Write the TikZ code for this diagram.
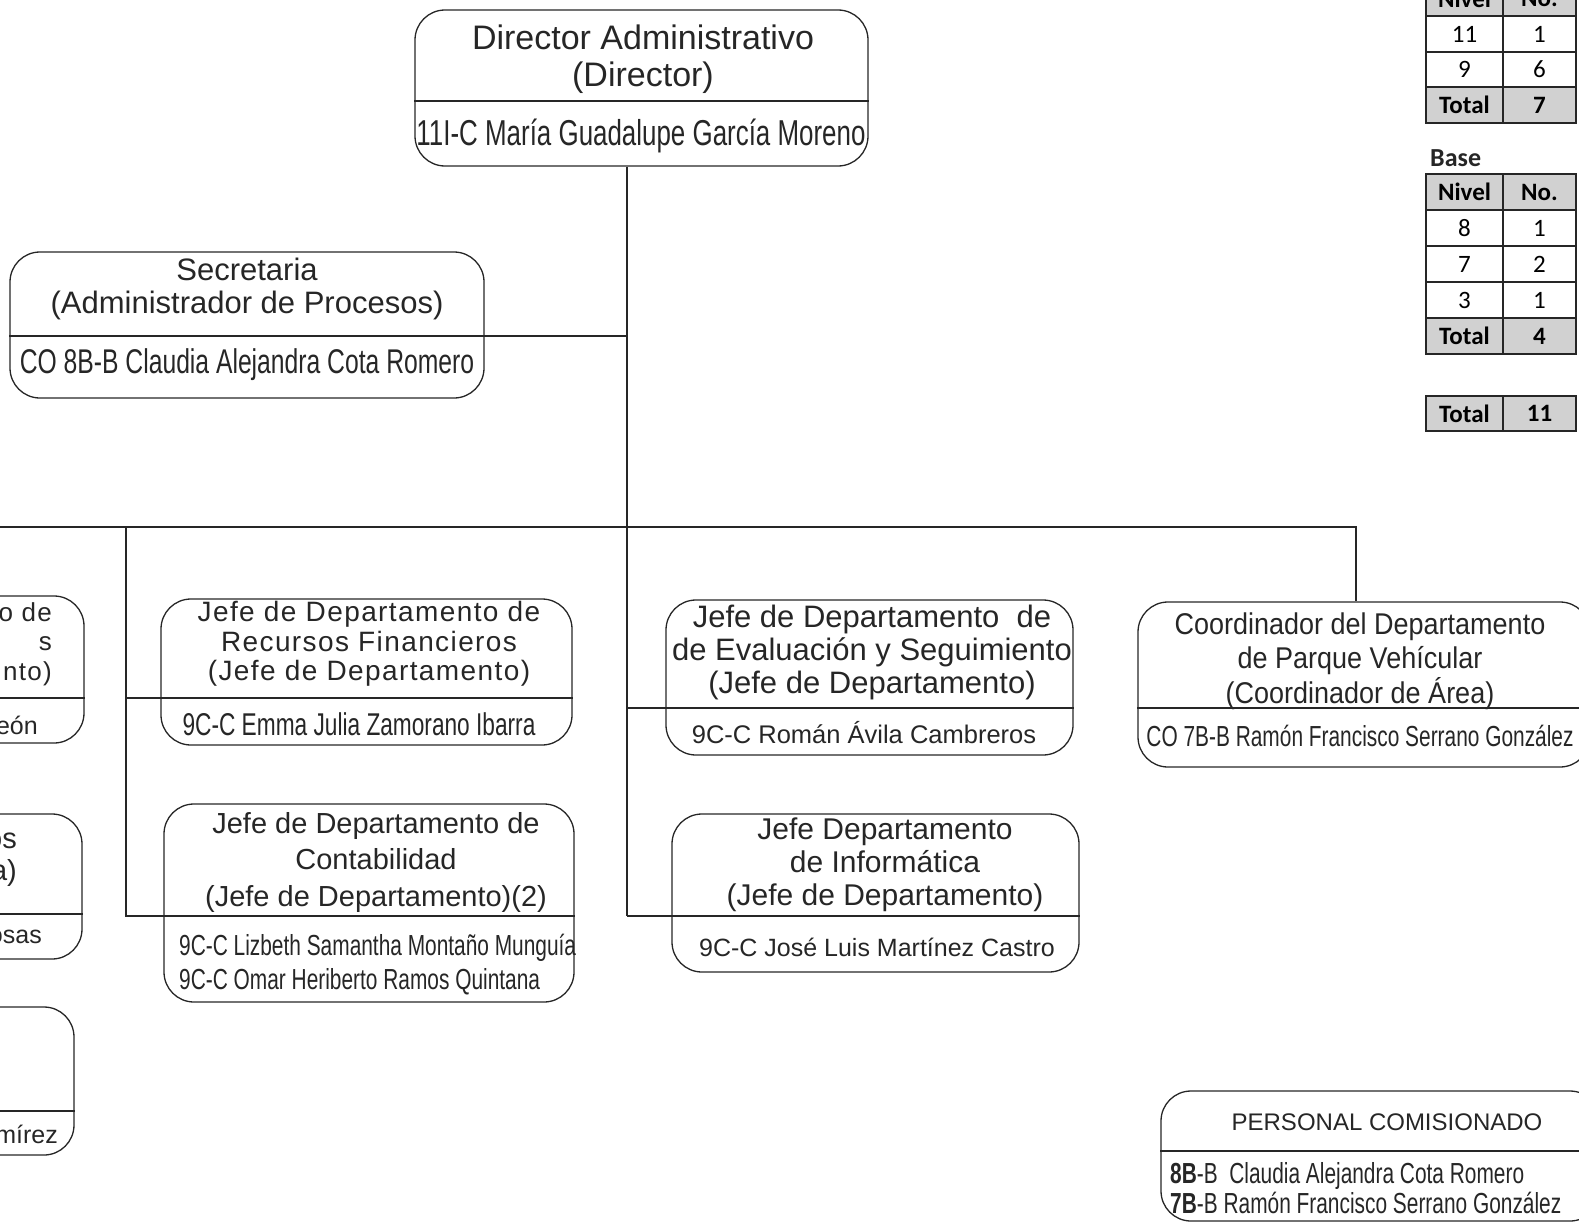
\documentclass[tikz,border=0pt]{standalone}
\usepackage{fontspec}
\setmainfont{Liberation Sans}
\newfontfamily\condfont[FakeStretch=0.72]{Liberation Sans}
\newfontfamily\semifont[FakeStretch=0.9]{Liberation Sans}
\newfontfamily\spacedfont[LetterSpace=5]{Liberation Sans}
\newfontfamily\calibfont{Carlito}
\usepackage{tikz}
\definecolor{ink}{gray}{0.15}
\definecolor{tblgray}{gray}{0.82}

\begin{document}
\begin{tikzpicture}[x=1pt, y=-1pt,
    box/.style={draw=ink, line width=1.3pt, rounded corners=30pt, inner sep=0pt},
    link/.style={draw=ink, line width=1.1pt},
    ttl/.style={align=center, inner sep=0pt, text=ink},
    nm/.style={inner sep=0pt, text=ink},
    cell/.style={draw=ink, line width=1.8pt, inner sep=0pt, minimum height=35.5pt,
        font=\calibfont\fontsize{25}{28}\selectfont},
    ca/.style={cell, minimum width=77pt},
    cb/.style={cell, minimum width=73pt},
    hdr/.style={fill=tblgray, font=\calibfont\bfseries\fontsize{25}{28}\selectfont}]
    \useasboundingbox (0,0) rectangle (1579,1223);
    \clip (0,0) rectangle (1579,1223);

    \node [box, minimum width=453pt, minimum height=156pt] (dir) at (641.5,88) {};
    \node [box, minimum width=474pt, minimum height=146pt] (sec) at (247,325) {};
    \node [box, minimum width=411pt, minimum height=146pt] (rf) at (366.5,672) {};
    \node [box, minimum width=410pt, minimum height=198pt] (cont) at (369,903) {};
    \node [box, minimum width=407pt, minimum height=155pt] (eval) at (869.5,677.5) {};
    \node [box, minimum width=407pt, minimum height=158pt] (inf) at (875.5,893) {};
    \node [box, minimum width=452pt, minimum height=165pt] (coord) at (1364,684.5) {};
    \node [box, minimum width=439pt, minimum height=130pt] (pers) at (1380.5,1156) {};
    \node [box, minimum width=384pt, minimum height=147pt] (lefta) at (-108,669.5) {};
    \node [box, minimum width=382pt, minimum height=145pt] (leftb) at (-109,886.5) {};
    \node [box, minimum width=374pt, minimum height=148pt] (leftc) at (-113,1081) {};

    \draw [link] (dir.west |- 0,101) -- (dir.east |- 0,101);
    \draw [link] (sec.west |- 0,336) -- (sec.east |- 0,336);
    \draw [link] (rf.west |- 0,698) -- (rf.east |- 0,698);
    \draw [link] (cont.west |- 0,916) -- (cont.east |- 0,916);
    \draw [link] (eval.west |- 0,708) -- (eval.east |- 0,708);
    \draw [link] (inf.west |- 0,916) -- (inf.east |- 0,916);
    \draw [link] (coord.west |- 0,708) -- (coord.east |- 0,708);
    \draw [link] (pers.west |- 0,1151) -- (pers.east |- 0,1151);
    \draw [link] (lefta.west |- 0,698) -- (lefta.east |- 0,698);
    \draw [link] (leftb.west |- 0,914) -- (leftb.east |- 0,914);
    \draw [link] (leftc.west |- 0,1111) -- (leftc.east |- 0,1111);

    \coordinate (jsec) at (627,336);
    \coordinate (jbus) at (627,527);
    \coordinate (jeval) at (627,708);
    \coordinate (jinf) at (627,916);
    \coordinate (busl) at (0,527);
    \coordinate (busr) at (1356,527);
    \coordinate (lv) at (126,527);

    \draw [link] (dir.south -| jbus) -- (jinf);
    \draw [link] (sec.east |- jsec) -- (jsec);
    \draw [link] (busl) -- (busr) -- (coord.north -| busr);
    \draw [link] (lv) |- (cont.west |- 0,916);
    \draw [link] (lv |- 0,698) -- (rf.west |- 0,698);
    \draw [link] (jeval) -- (eval.west |- jeval);
    \draw [link] (jinf) -- (inf.west |- jinf);

    \node [ttl, font=\fontsize{34}{36.5}\selectfont] (dir-t) at (643,59) {Director Administrativo\\(Director)};
    \node [nm, font=\condfont\fontsize{36}{40}\selectfont] (dir-n) at (641,136) {11I-C María Guadalupe García Moreno};
    \node [ttl, font=\fontsize{31}{33}\selectfont] (sec-t) at (247,289) {Secretaria\\(Administrador de Procesos)};
    \node [nm, font=\condfont\fontsize{34.3}{37}\selectfont] (sec-n) at (247,365) {CO 8B-B Claudia Alejandra Cota Romero};
    \node [ttl, font=\spacedfont\fontsize{28}{29.5}\selectfont] (rf-t) at (369,644) {Jefe de Departamento de\\Recursos Financieros\\(Jefe de Departamento)};
    \node [nm, font=\condfont\fontsize{31.5}{34}\selectfont] (rf-n) at (359,724) {9C-C Emma Julia Zamorano Ibarra};
    \node [ttl, font=\fontsize{29}{36.5}\selectfont] (cont-t) at (376,862) {Jefe de Departamento de\\Contabilidad\\(Jefe de Departamento)(2)};
    \node [nm, anchor=west, align=left, font=\condfont\fontsize{29}{34}\selectfont] (cont-n) at (179,965) {9C-C Lizbeth Samantha Montaño Munguía\\9C-C Omar Heriberto Ramos Quintana};
    \node [ttl, font=\fontsize{31}{33}\selectfont] (eval-t) at (872,652) {Jefe de Departamento\ \ de\\de Evaluación y Seguimiento\\(Jefe de Departamento)};
    \node [nm, font=\fontsize{25.5}{28}\selectfont] (eval-n) at (864,733) {9C-C Román Ávila Cambreros};
    \node [ttl, font=\fontsize{30}{33}\selectfont] (inf-t) at (885,865) {Jefe Departamento\\de Informática\\(Jefe de Departamento)};
    \node [nm, font=\fontsize{25}{28}\selectfont] (inf-n) at (877,947) {9C-C José Luis Martínez Castro};
    \node [ttl, font=\semifont\fontsize{30}{34.5}\selectfont] (coord-t) at (1360,661) {Coordinador del Departamento\\de Parque Vehícular\\(Coordinador de Área)};
    \node [nm, font=\condfont\fontsize{29}{32}\selectfont] (coord-n) at (1360,736) {CO 7B-B Ramón Francisco Serrano González};
    \node [nm, font=\fontsize{24}{28}\selectfont] (pers-t) at (1387,1122) {PERSONAL COMISIONADO};
    \node [nm, anchor=west, align=left, font=\condfont\fontsize{29}{30}\selectfont] (pers-n) at (1170,1188) {\textbf{8B}-B\ \ Claudia Alejandra Cota Romero\\\textbf{7B}-B Ramón Francisco Serrano González};

    \node [nm, anchor=east, align=right, font=\spacedfont\fontsize{26}{29.5}\selectfont] (lefta-t) at (52,644) {o de\\s\\nto)};
    \node [nm, anchor=east, font=\fontsize{25}{28}\selectfont] (lefta-n) at (38,725) {eón};
    \node [nm, anchor=east, align=right, font=\fontsize{29}{32}\selectfont] (leftb-t) at (17,860) {os\\a)};
    \node [nm, anchor=east, font=\fontsize{25}{28}\selectfont] (leftb-n) at (42,937) {osas};
    \node [nm, anchor=east, font=\fontsize{25}{28}\selectfont] (leftc-n) at (58,1134) {mírez};

    \node [ca, hdr] (t1a0) at (1464.5,-1.5) {Nivel};
    \node [cb, hdr] (t1b0) at (1539.5,-1.5) {No.};
    \node [ca] (t1a1) at (1464.5,34) {11};
    \node [cb] (t1b1) at (1539.5,34) {1};
    \node [ca] (t1a2) at (1464.5,69.5) {9};
    \node [cb] (t1b2) at (1539.5,69.5) {6};
    \node [ca, hdr] (t1a3) at (1464.5,105) {Total};
    \node [cb, hdr] (t1b3) at (1539.5,105) {7};

    \node [nm, anchor=west, font=\calibfont\bfseries\fontsize{26}{28}\selectfont] (base) at (1430,158) {Base};
    \node [ca, hdr] (t2a0) at (1464.5,192) {Nivel};
    \node [cb, hdr] (t2b0) at (1539.5,192) {No.};
    \node [ca] (t2a1) at (1464.5,228) {8};
    \node [cb] (t2b1) at (1539.5,228) {1};
    \node [ca] (t2a2) at (1464.5,264) {7};
    \node [cb] (t2b2) at (1539.5,264) {2};
    \node [ca] (t2a3) at (1464.5,300) {3};
    \node [cb] (t2b3) at (1539.5,300) {1};
    \node [ca, hdr] (t2a4) at (1464.5,336) {Total};
    \node [cb, hdr] (t2b4) at (1539.5,336) {4};

    \node [ca, hdr] (t3a) at (1464.5,413.5) {Total};
    \node [cb, hdr] (t3b) at (1539.5,413.5) {11};
\end{tikzpicture}
\end{document}
